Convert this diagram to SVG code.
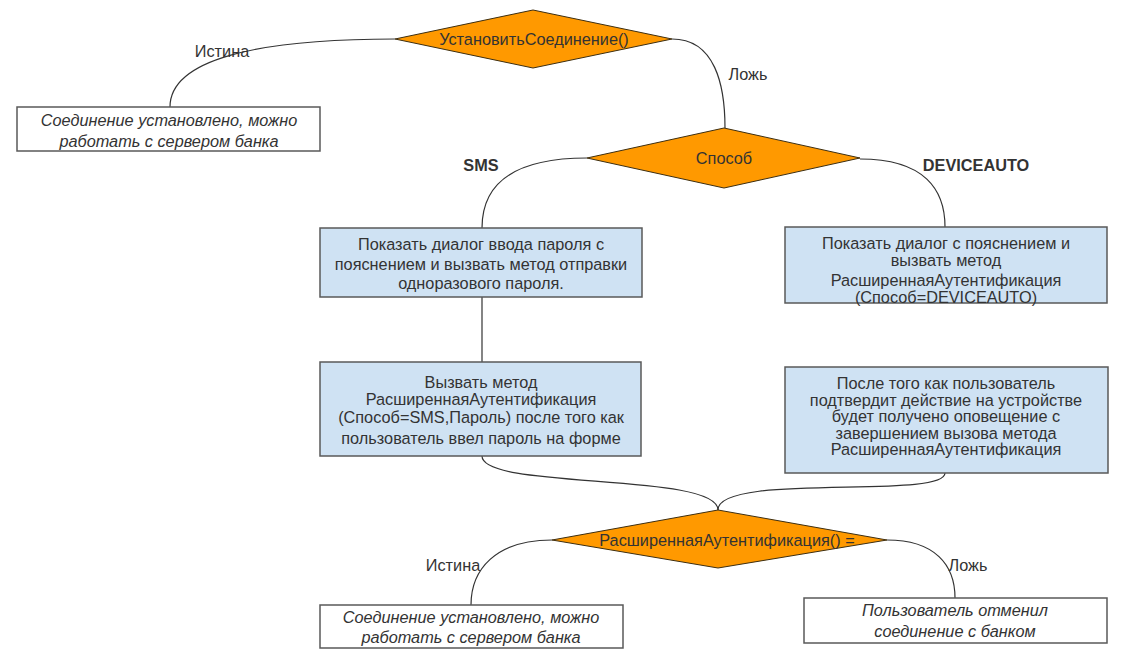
<svg xmlns="http://www.w3.org/2000/svg" width="1133" height="663" viewBox="0 0 1133 663">
  <style>
    text { font-family: "Liberation Sans", Arial, sans-serif; font-size: 16.3px; fill: #333333; text-anchor: middle; }
    .it { font-style: italic; }
    .b { font-weight: bold; }
    .dec { fill: #ff9900; stroke: #3d2e10; stroke-width: 1; }
    .act { fill: #cfe2f3; stroke: #595959; stroke-width: 1.5; }
    .end { fill: #ffffff; stroke: #595959; stroke-width: 1.5; }
    .edge { fill: none; stroke: #333333; stroke-width: 1.2; }
  </style>
  <rect width="1133" height="663" fill="#ffffff"/>

  <g id="connectors">
    <path class="edge" d="M395,39 C255,39 170,60 170,107"/>
    <path class="edge" d="M672,39 C715,39 725,85 725,128"/>
    <path class="edge" d="M587,158 C505,158 482,190 482,228"/>
    <path class="edge" d="M860,159 C925,159 945,190 945,227"/>
    <path class="edge" d="M482,297 L482,362"/>
    <path class="edge" d="M482,456 C482,490 718,472 718,510"/>
    <path class="edge" d="M945,473 C945,500 718,472 718,510"/>
    <path class="edge" d="M552,540 C495,540 471,570 471,605"/>
    <path class="edge" d="M887,540 C935,540 955,565 955,598"/>
  </g>

  <g id="labels">
    <text x="222" y="57">Истина</text>
    <text x="748" y="80">Ложь</text>
    <text class="b" x="481" y="171">SMS</text>
    <text class="b" x="976" y="171">DEVICEAUTO</text>
    <text x="453" y="571">Истина</text>
    <text x="968" y="571">Ложь</text>
  </g>

  <g id="connect">
    <polygon class="dec" points="533,10 672,39 533,68 395,39"/>
    <text x="534" y="45">УстановитьСоединение()</text>
  </g>

  <g id="connected-1">
    <rect class="end" x="17" y="107" width="303" height="44"/>
    <text class="it" x="169" y="126">Соединение установлено, можно</text>
    <text class="it" x="169" y="147">работать с сервером банка</text>
  </g>

  <g id="method">
    <polygon class="dec" points="724,128 860,158 724,188 587,158"/>
    <text x="724" y="164">Способ</text>
  </g>

  <g id="sms-dialog">
    <rect class="act" x="320" y="228" width="322" height="69"/>
    <text x="481" y="250">Показать диалог ввода пароля с</text>
    <text x="481" y="270">пояснением и вызвать метод отправки</text>
    <text x="481" y="289">одноразового пароля.</text>
  </g>

  <g id="sms-call">
    <rect class="act" x="320" y="362" width="321" height="94"/>
    <text x="481" y="388">Вызвать метод</text>
    <text x="481" y="405">РасширеннаяАутентификация</text>
    <text x="481" y="423">(Способ=SMS,Пароль) после того как</text>
    <text x="481" y="444">пользователь ввел пароль на форме</text>
  </g>

  <g id="device-dialog">
    <rect class="act" x="785" y="227" width="322" height="76"/>
    <text x="946" y="249">Показать диалог с пояснением и</text>
    <text x="946" y="266">вызвать метод</text>
    <text x="946" y="286">РасширеннаяАутентификация</text>
    <text x="946" y="303">(Способ=DEVICEAUTO)</text>
  </g>

  <g id="device-wait">
    <rect class="act" x="785" y="367" width="323" height="106"/>
    <text x="946" y="389">После того как пользователь</text>
    <text x="946" y="406">подтвердит действие на устройстве</text>
    <text x="946" y="422">будет получено оповещение с</text>
    <text x="946" y="439">завершением вызова метода</text>
    <text x="946" y="455">РасширеннаяАутентификация</text>
  </g>

  <g id="auth-result">
    <polygon class="dec" points="718,510 887,540 718,568 552,540"/>
    <text x="727" y="546">РасширеннаяАутентификация() =</text>
  </g>

  <g id="connected-2">
    <rect class="end" x="320" y="605" width="303" height="43"/>
    <text class="it" x="471" y="623">Соединение установлено, можно</text>
    <text class="it" x="471" y="643">работать с сервером банка</text>
  </g>

  <g id="cancelled">
    <rect class="end" x="804" y="598" width="303" height="45"/>
    <text class="it" x="955" y="616">Пользователь отменил</text>
    <text class="it" x="955" y="637">соединение с банком</text>
  </g>
</svg>
